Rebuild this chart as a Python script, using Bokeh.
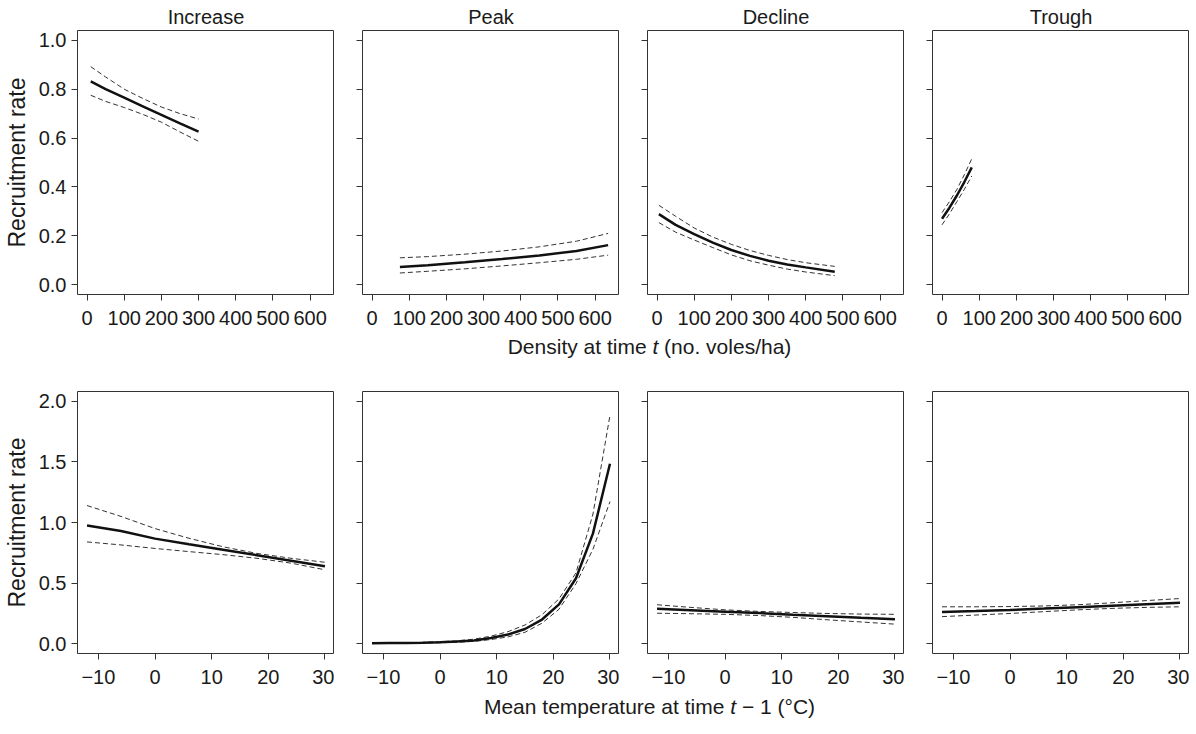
from bokeh.plotting import figure
from bokeh.layouts import column, row
from bokeh.models import Range1d, FixedTicker, PrintfTickFormatter, CustomJSTickFormatter
from bokeh.core.properties import value
from bokeh.embed import file_html
from bokeh.resources import INLINE

FONT = "Liberation Sans"
TXT = "#1a1a1a"

phases = ["Increase", "Peak", "Decline", "Trough"]

# ---- Top row: recruitment rate vs density at time t ----
inc_d_x = [10, 50, 100, 150, 200, 250, 300]
inc_d_mean = [0.832, 0.800, 0.765, 0.730, 0.695, 0.660, 0.626]
inc_d_up = [0.892, 0.850, 0.800, 0.762, 0.727, 0.700, 0.678]
inc_d_lo = [0.775, 0.750, 0.725, 0.697, 0.665, 0.625, 0.587]

peak_d_x = [75, 150, 250, 350, 450, 550, 635]
peak_d_mean = [0.073, 0.080, 0.092, 0.105, 0.120, 0.138, 0.162]
peak_d_up = [0.110, 0.115, 0.125, 0.138, 0.155, 0.178, 0.210]
peak_d_lo = [0.048, 0.055, 0.065, 0.077, 0.090, 0.104, 0.121]

dec_d_x = [5, 50, 100, 150, 200, 250, 300, 350, 400, 478]
dec_d_mean = [0.289, 0.245, 0.207, 0.172, 0.142, 0.118, 0.098, 0.083, 0.071, 0.053]
dec_d_up = [0.325, 0.280, 0.232, 0.195, 0.165, 0.140, 0.120, 0.103, 0.090, 0.075]
dec_d_lo = [0.254, 0.215, 0.183, 0.152, 0.122, 0.098, 0.080, 0.064, 0.052, 0.037]

tro_d_x = [0, 20, 40, 60, 80]
tro_d_mean = [0.270, 0.315, 0.365, 0.420, 0.480]
tro_d_up = [0.295, 0.340, 0.390, 0.450, 0.515]
tro_d_lo = [0.245, 0.290, 0.340, 0.390, 0.445]

# ---- Bottom row: recruitment rate vs mean temperature at t-1 ----
inc_t_x = [-12, -6, 0, 6, 12, 18, 24, 30]
inc_t_mean = [0.976, 0.930, 0.867, 0.820, 0.775, 0.730, 0.685, 0.640]
inc_t_up = [1.140, 1.050, 0.950, 0.870, 0.800, 0.745, 0.705, 0.672]
inc_t_lo = [0.840, 0.815, 0.786, 0.760, 0.735, 0.705, 0.665, 0.610]

peak_t_x = [-12, -9, -6, -3, 0, 3, 6, 9, 12, 15, 18, 21, 24, 27, 30]
peak_t_mean = [0.005, 0.006, 0.007, 0.009, 0.012, 0.018, 0.028, 0.047, 0.076, 0.122, 0.200, 0.325, 0.540, 0.910, 1.485]
peak_t_up = [0.006, 0.007, 0.009, 0.012, 0.017, 0.025, 0.038, 0.063, 0.100, 0.155, 0.240, 0.370, 0.585, 1.070, 1.884]
peak_t_lo = [0.004, 0.005, 0.006, 0.007, 0.009, 0.013, 0.020, 0.035, 0.057, 0.095, 0.170, 0.285, 0.496, 0.780, 1.173]

dec_t_x = [-12, -6, 0, 6, 12, 18, 24, 30]
dec_t_mean = [0.289, 0.277, 0.265, 0.253, 0.240, 0.228, 0.215, 0.203]
dec_t_up = [0.322, 0.300, 0.280, 0.267, 0.258, 0.250, 0.245, 0.243]
dec_t_lo = [0.252, 0.248, 0.243, 0.233, 0.218, 0.198, 0.180, 0.162]

tro_t_x = [-12, -6, 0, 6, 12, 18, 24, 30]
tro_t_mean = [0.262, 0.270, 0.279, 0.290, 0.302, 0.314, 0.326, 0.338]
tro_t_up = [0.305, 0.305, 0.307, 0.312, 0.322, 0.338, 0.356, 0.373]
tro_t_lo = [0.224, 0.237, 0.250, 0.265, 0.280, 0.292, 0.300, 0.305]

dens_ticks = [0, 100, 200, 300, 400, 500, 600]
temp_ticks = [-10, 0, 10, 20, 30]
rate_ticks_top = [0.0, 0.2, 0.4, 0.6, 0.8, 1.0]
rate_ticks_bot = [0.0, 0.5, 1.0, 1.5, 2.0]

ylabel = "Recruitment rate"
xlabel_top = [("Density at time ", "normal"), ("t", "italic"), (" (no. voles/ha)", "normal")]
xlabel_bot = [("Mean temperature at time ", "normal"), ("t", "italic"), (" \u2212 1 (\u00b0C)", "normal")]

top_series = [
    (inc_d_x, inc_d_mean, inc_d_up, inc_d_lo),
    (peak_d_x, peak_d_mean, peak_d_up, peak_d_lo),
    (dec_d_x, dec_d_mean, dec_d_up, dec_d_lo),
    (tro_d_x, tro_d_mean, tro_d_up, tro_d_lo),
]
bot_series = [
    (inc_t_x, inc_t_mean, inc_t_up, inc_t_lo),
    (peak_t_x, peak_t_mean, peak_t_up, peak_t_lo),
    (dec_t_x, dec_t_mean, dec_t_up, dec_t_lo),
    (tro_t_x, tro_t_mean, tro_t_up, tro_t_lo),
]

FW = 257
TICK_FS = "20px"
LAB_FS = "23px"


def make_panel(i, series, xr, yr, xticks, yticks, title, fh, top_border):
    kw = dict(frame_width=FW, frame_height=fh,
              x_range=Range1d(*xr), y_range=Range1d(*yr),
              output_backend="svg", toolbar_location=None,
              min_border_left=71 if i == 0 else 28, min_border_right=0,
              min_border_top=top_border, min_border_bottom=0,
              background_fill_color="white", border_fill_color="white")
    p = figure(**kw)
    if title:
        p.title.text = title
        p.title.align = "center"
        p.title.text_font = FONT
        p.title.text_font_size = "20px"
        p.title.text_font_style = "normal"
        p.title.text_color = TXT
        p.title.standoff = 6
        p.title.offset = 0
    p.grid.visible = False
    p.outline_line_color = "#333333"
    p.outline_line_width = 1
    for ax in (p.xaxis[0], p.yaxis[0]):
        ax.axis_line_color = None
        ax.major_tick_out = 6
        ax.major_tick_in = 0
        ax.minor_tick_line_color = None
        ax.major_tick_line_color = "#333333"
        ax.major_label_text_font = FONT
        ax.major_label_text_font_size = TICK_FS
        ax.major_label_text_color = TXT
    p.xaxis.major_label_standoff = 10
    p.yaxis.major_label_standoff = 5
    p.xaxis.ticker = FixedTicker(ticks=xticks)
    p.yaxis.ticker = FixedTicker(ticks=yticks)
    if min(xticks) < 0:
        p.xaxis.major_label_overrides = {t: ("\u2212" + str(-t)) for t in xticks if t < 0}
    if i == 0:
        p.yaxis.formatter = PrintfTickFormatter(format="%.1f")
        p.yaxis.axis_label = ylabel
        p.yaxis.axis_label_text_font = FONT
        p.yaxis.axis_label_text_font_size = LAB_FS
        p.yaxis.axis_label_text_font_style = "normal"
        p.yaxis.axis_label_text_color = TXT
        p.yaxis.axis_label_standoff = 6
    else:
        p.yaxis.formatter = CustomJSTickFormatter(code="return ''")
        p.yaxis.major_label_standoff = 0
    x, m, up, lo = series
    p.line(x, up, line_color="#333333", line_width=1, line_dash="5 3")
    p.line(x, lo, line_color="#333333", line_width=1, line_dash="5 3")
    p.line(x, m, line_color="#111111", line_width=2.5)
    return p


# Arial / Liberation Sans advance widths (per 1000 em), used to lay out mixed-style labels
W = {' ': 278, '(': 333, ')': 333, '.': 278, '/': 278, '\u00b0': 400, '\u2212': 584, '1': 556,
     'C': 722, 'D': 722, 'M': 833, 'a': 556, 'e': 556, 'h': 556, 'i': 222, 'l': 222, 'm': 833,
     'n': 556, 'o': 556, 'p': 556, 'r': 333, 's': 500, 't': 278, 'u': 556, 'v': 500, 'y': 500}


def label_strip(pieces, height, cx, cy, size):
    p = figure(frame_width=1183, frame_height=height, x_range=Range1d(0, 1183),
               y_range=Range1d(0, height), output_backend="svg", toolbar_location=None,
               min_border=0, background_fill_color="white", border_fill_color="white")
    p.axis.visible = False
    p.grid.visible = False
    p.outline_line_color = None
    widths = [sum(W.get(c, 556) for c in s) * size / 1000 for s, _ in pieces]
    x0 = cx - sum(widths) / 2
    for (s, style), w in zip(pieces, widths):
        lead = len(s) - len(s.lstrip(" "))
        xt = x0 + lead * W[' '] * size / 1000
        p.text(x=[xt], y=[height - cy], text=[s.strip(" ")], text_font=value(FONT),
               text_font_style=style, text_font_size=f"{size}px", text_align="left",
               text_baseline="middle", text_color=TXT)
        x0 += w
    return p


top = [make_panel(i, top_series[i], (-25.6, 665.6), (-0.04, 1.04), dens_ticks, rate_ticks_top,
                  phases[i], 264, 27) for i in range(4)]
bot = [make_panel(i, bot_series[i], (-13.68, 31.68), (-0.08, 2.08), temp_ticks, rate_ticks_bot,
                  None, 262, 29) for i in range(4)]

strip1 = label_strip(xlabel_top, 35, 649, 19, 21)
strip2 = label_strip(xlabel_bot, 35, 649, 20, 21)

layout = column(row(*top), strip1, row(*bot), strip2, spacing=0)
html = file_html(layout, INLINE)
open("out.html", "w").write(html)
